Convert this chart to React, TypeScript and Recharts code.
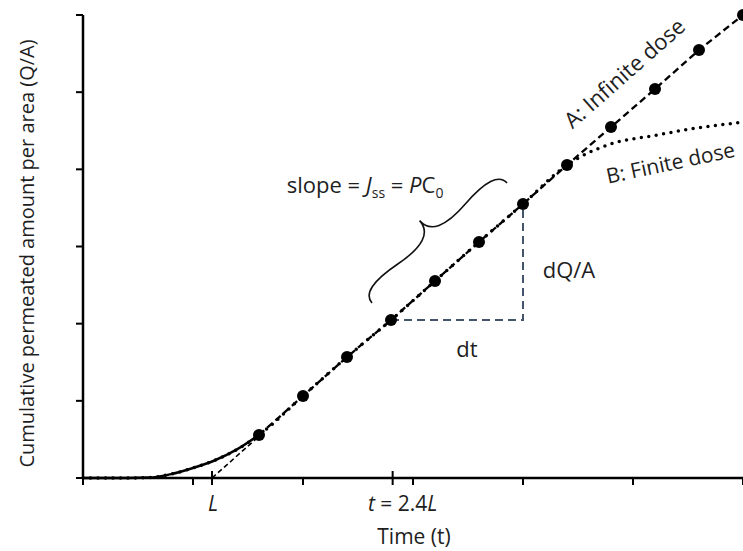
import { LineChart, Line, XAxis, YAxis, ReferenceDot, ReferenceLine } from "recharts";

const FONT = "'Open Sans', Lato, sans-serif";
const INK = "#1e1e1e";

// time axis in arbitrary units; lag time L and the 2.4L marker
const LAG = 1.173;
const T_MARK = 2.815;
const xTicks = [0, 1, LAG, 2, T_MARK, 3, 4, 5, 6];
const yTicks = [0, 1, 2, 3, 4, 5, 6];

// lag phase (solid curve)
const lagTime = [0, 0.4, 0.6, 0.8, 1.0, 1.2, 1.4, 1.6];
const lagAmount = [0, 0, 0.005, 0.05, 0.13, 0.23, 0.37, 0.557];

// sampled points, A: infinite dose
const sampleTime = [1.6, 2.0, 2.4, 2.8, 3.2, 3.6, 4.0, 4.4, 4.8, 5.2, 5.6, 6.0];
const infiniteDose = [0.557, 1.063, 1.568, 2.047, 2.553, 3.058, 3.551, 4.056, 4.548, 5.041, 5.546, 6.0];
// B: finite dose, levels off after 4.4
const finiteDose = [0.557, 1.063, 1.568, 2.047, 2.553, 3.058, 3.551, 4.056, 4.33, 4.44, 4.54, 4.61];

// tangent from L up to the first sample
const tangentTime = [LAG, 1.6];
const tangentAmount = [0, 0.54];

const toRows = (xs: number[], ys: number[]) => xs.map((t, i) => ({ t, q: ys[i] }));

const lagData = toRows(lagTime, lagAmount);
const infiniteData = toRows(sampleTime, infiniteDose);
const finiteData = [...lagData.slice(0, -1), ...toRows(sampleTime, finiteDose)];
const tangentData = toRows(tangentTime, tangentAmount);
// dt / dQ triangle between samples 3 and 6
const triangleData = [
  { t: sampleTime[3], q: infiniteDose[3] },
  { t: sampleTime[6], q: infiniteDose[3] },
  { t: sampleTime[6], q: infiniteDose[6] },
];

function XTick(props: any) {
  const { x, y, payload } = props;
  const v = payload.value;
  const special = v === LAG || v === T_MARK;
  return (
    <g>
      <line x1={x} x2={x} y1={special ? y - 7 : y} y2={y + 7} stroke="#000" strokeWidth={2} />
      {v === LAG && (
        <text x={x + 1} y={y + 33} textAnchor="middle" fontFamily={FONT} fontSize={21} fill={INK} fontStyle="italic">
          L
        </text>
      )}
      {v === T_MARK && (
        <text x={x + 10} y={y + 33} textAnchor="middle" fontFamily={FONT} fontSize={21} fill={INK}>
          <tspan fontStyle="italic">t</tspan> = 2.4<tspan fontStyle="italic">L</tspan>
        </text>
      )}
    </g>
  );
}

function YTick(props: any) {
  const { x, y } = props;
  return <line x1={x - 7} x2={x} y1={y} y2={y} stroke="#000" strokeWidth={2} />;
}

function Brace(props: any) {
  const { x1, y1, x2, y2 } = props;
  const w = 30;
  const q = 0.6;
  const len = Math.hypot(x2 - x1, y2 - y1);
  const ux = (x2 - x1) / len;
  const uy = (y2 - y1) / len;
  const nx = uy;
  const ny = -ux;
  const p = (a: number, b: number) => `${a.toFixed(1)} ${b.toFixed(1)}`;
  const tipX = x1 + 0.5 * len * ux + w * nx;
  const tipY = y1 + 0.5 * len * uy + w * ny;
  const d =
    `M ${p(x1, y1)} Q ${p(x1 + q * w * nx, y1 + q * w * ny)} ${p(x1 + 0.25 * len * ux + (1 - q) * w * nx, y1 + 0.25 * len * uy + (1 - q) * w * ny)} T ${p(tipX, tipY)} ` +
    `M ${p(x2, y2)} Q ${p(x2 + q * w * nx, y2 + q * w * ny)} ${p(x1 + 0.75 * len * ux + (1 - q) * w * nx, y1 + 0.75 * len * uy + (1 - q) * w * ny)} T ${p(tipX, tipY)}`;
  return <path d={d} fill="none" stroke="#111" strokeWidth={1.6} />;
}

const note = (render: (cx: number, cy: number) => any) => (props: any) => render(props.cx, props.cy);

export default function App() {
  return (
    <div style={{ position: "absolute", left: 0, top: 0 }}>
      <LineChart width={743} height={551} margin={{ top: 15, right: 0, bottom: 0, left: 0 }}>
        <XAxis
          type="number"
          dataKey="t"
          domain={[0, 6]}
          ticks={xTicks}
          interval={0}
          tickSize={0}
          tickMargin={0}
          tickLine={false}
          tick={<XTick />}
          height={73}
          axisLine={{ stroke: "#000", strokeWidth: 2.5 }}
          label={{
            content: (p: any) => (
              <text
                x={p.viewBox.x + p.viewBox.width / 2 + 1}
                y={p.viewBox.y + 66}
                textAnchor="middle"
                fontFamily={FONT}
                fontSize={21}
                fill={INK}
              >
                Time (t)
              </text>
            ),
          }}
        />
        <YAxis
          type="number"
          dataKey="q"
          domain={[0, 6]}
          ticks={yTicks}
          interval={0}
          tickSize={0}
          tickMargin={0}
          tickLine={false}
          tick={<YTick />}
          width={83}
          axisLine={{ stroke: "#000", strokeWidth: 2.5 }}
          label={{
            content: (p: any) => (
              <text
                transform={`translate(34, ${p.viewBox.y + p.viewBox.height / 2 + 7}) rotate(-90)`}
                textAnchor="middle"
                fontFamily={FONT}
                fontSize={20}
                fill={INK}
              >
                Cumulative permeated amount per area (Q/A)
              </text>
            ),
          }}
        />
        <Line
          data={triangleData}
          dataKey="q"
          type="linear"
          stroke="#44546A"
          strokeWidth={2}
          strokeDasharray="8 5"
          dot={false}
          isAnimationActive={false}
        />
        <Line
          data={finiteData}
          dataKey="q"
          type="monotone"
          stroke="#000"
          strokeWidth={3.5}
          strokeDasharray="0 7.5"
          strokeLinecap="round"
          dot={false}
          isAnimationActive={false}
        />
        <Line
          data={lagData}
          dataKey="q"
          type="monotone"
          stroke="#000"
          strokeWidth={2.5}
          dot={false}
          isAnimationActive={false}
        />
        <Line
          data={tangentData}
          dataKey="q"
          type="linear"
          stroke="#000"
          strokeWidth={1.6}
          strokeDasharray="5 3"
          dot={false}
          isAnimationActive={false}
        />
        <Line
          data={infiniteData}
          dataKey="q"
          type="linear"
          stroke="#000"
          strokeWidth={2.3}
          strokeDasharray="7 4"
          dot={{ r: 6, fill: "#000", stroke: "none", strokeDasharray: "" }}
          isAnimationActive={false}
        />
        <ReferenceLine
          segment={[
            { x: 2.627, y: 2.268 },
            { x: 3.855, y: 3.823 },
          ]}
          shape={Brace}
        />
        <ReferenceDot
          x={2.564}
          y={3.693}
          r={0}
          shape={note((cx, cy) => (
            <text x={cx} y={cy} textAnchor="middle" fontFamily={FONT} fontSize={22} fill={INK}>
              slope = <tspan fontStyle="italic">J</tspan>
              <tspan fontSize={14} dy={5}>ss</tspan>
              <tspan dy={-5}> = </tspan>
              <tspan fontStyle="italic">P</tspan>C<tspan fontSize={14} dy={5}>0</tspan>
            </text>
          ))}
        />
        <ReferenceDot
          x={4.418}
          y={2.59}
          r={0}
          shape={note((cx, cy) => (
            <text x={cx} y={cy} textAnchor="middle" fontFamily={FONT} fontSize={22} fill={INK}>
              dQ/A
            </text>
          ))}
        />
        <ReferenceDot
          x={3.49}
          y={1.568}
          r={0}
          shape={note((cx, cy) => (
            <text x={cx} y={cy} textAnchor="middle" fontFamily={FONT} fontSize={22} fill={INK}>
              dt
            </text>
          ))}
        />
        <ReferenceDot
          x={4.97}
          y={5.17}
          r={0}
          shape={note((cx, cy) => (
            <text
              x={cx}
              y={cy}
              textAnchor="middle"
              transform={`rotate(-41.5, ${cx}, ${cy})`}
              fontFamily={FONT}
              fontSize={22}
              fill={INK}
            >
              A: Infinite dose
            </text>
          ))}
        />
        <ReferenceDot
          x={5.355}
          y={3.99}
          r={0}
          shape={note((cx, cy) => (
            <text
              x={cx}
              y={cy}
              textAnchor="middle"
              transform={`rotate(-12, ${cx}, ${cy})`}
              fontFamily={FONT}
              fontSize={21}
              fill={INK}
            >
              B: Finite dose
            </text>
          ))}
        />
      </LineChart>
    </div>
  );
}
